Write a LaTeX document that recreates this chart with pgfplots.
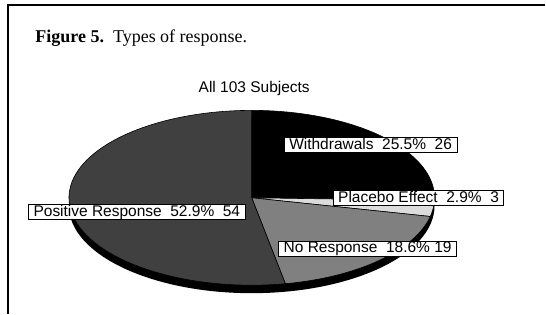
\documentclass[border=0pt]{standalone}
\usepackage{pgfplots}
\pgfplotsset{compat=1.18}
\usepackage{fontspec}
\setmainfont{Liberation Serif}
\newfontfamily\arial{Liberation Sans}
\definecolor{lgray}{HTML}{DCDCDC}
\definecolor{mgray}{HTML}{808080}
\definecolor{dgray}{HTML}{404040}
\begin{document}
\begin{tikzpicture}
\begin{axis}[width=546pt,height=314pt,scale only axis,
  xmin=0,xmax=546,ymin=0,ymax=314,y dir=reverse,
  hide axis,clip=false]
\path (axis cs:0,0) rectangle (axis cs:546,314);
% frame
\addplot[black,line width=1.2pt] coordinates {(8,314) (8,5) (546,5)};
% 3D side (depth 8)
\fill[black] (axis cs:69,198) rectangle (axis cs:435,206);
\fill[black] (axis cs:252,206) ellipse [x radius=183pt, y radius=87.5pt];
% slices
\pgfmathsetmacro\total{26+3+19+54}
\gdef\startang{90}
\foreach \v/\col in {26/black,3/lgray,19/mgray,54/dgray}{
  \pgfmathsetmacro\endang{\startang-\v/\total*360}
  \edef\tmp{\noexpand\filldraw[fill=\col,draw=black,line width=0.6pt]
    (axis cs:252,198) -- ++(\startang:183pt and 87.5pt)
    arc[start angle=\startang,end angle=\endang,x radius=183pt,y radius=87.5pt] -- cycle;}
  \tmp
  \xdef\startang{\endang}
}
% texts
\node[anchor=base west,font=\fontsize{18}{20}\selectfont] at (axis cs:32,43) {\textbf{Figure 5.}\ \ Types of response.};
\node[anchor=base,font=\arial\fontsize{15.5}{18}\selectfont] at (axis cs:254.5,93) {All 103 Subjects};
\tikzset{lab/.style={draw=black,fill=white,line width=0.8pt,font=\arial\fontsize{15.5}{18}\selectfont,
  inner xsep=5pt,inner ysep=1pt,text height=11pt,text depth=2.5pt}}
\node[lab] at (axis cs:371,145) {Withdrawals\ \ 25.5\%\ \ 26};
\node[lab] at (axis cs:419,198) {Placebo Effect\ \ 2.9\%\ \ 3};
\node[lab] at (axis cs:137,212) {Positive Response\ \ 52.9\%\ \ 54};
\node[lab] at (axis cs:368,249) {No Response\ \ 18.6\% 19};
\end{axis}
\end{tikzpicture}
\end{document}
